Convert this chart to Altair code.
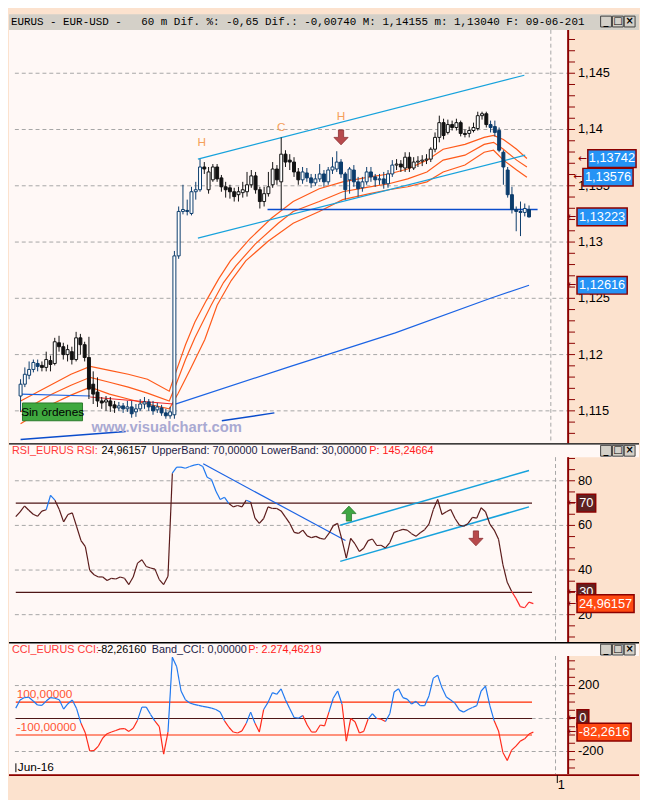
import altair as alt
import pandas as pd

# ------------------------------------------------------------------ data
price_open = [
 1.11632, 1.11737, 1.11816, 1.11868, 1.11921, 1.11904, 1.11886, 1.11947, 1.11921, 1.12105,
 1.12070, 1.12000, 1.12026, 1.11956, 1.12149, 1.12088, 1.11974, 1.11737, 1.11667, 1.11588,
 1.11579, 1.11588, 1.11553, 1.11526, 1.11544, 1.11518, 1.11535, 1.11491, 1.11518, 1.11561,
 1.11579, 1.11544, 1.11509, 1.11526, 1.11482, 1.11456, 1.11465, 1.12877, 1.13272, 1.13281,
 1.13254, 1.13447, 1.13465, 1.13667, 1.13465, 1.13553, 1.13667, 1.13570, 1.13491, 1.13482,
 1.13447, 1.13421, 1.13439, 1.13447, 1.13509, 1.13588, 1.13465, 1.13360, 1.13430, 1.13509,
 1.13649, 1.13535, 1.13781, 1.13728, 1.13711, 1.13623, 1.13553, 1.13614, 1.13570, 1.13526,
 1.13561, 1.13605, 1.13535, 1.13640, 1.13649, 1.13711, 1.13605, 1.13553, 1.13640, 1.13535,
 1.13482, 1.13535, 1.13623, 1.13579, 1.13553, 1.13561, 1.13518, 1.13605, 1.13684, 1.13693,
 1.13658, 1.13754, 1.13658, 1.13711, 1.13719, 1.13728, 1.13737, 1.13825, 1.13930, 1.14061,
 1.13974, 1.14044, 1.14018, 1.14061, 1.13965, 1.13965, 1.13991, 1.14009, 1.14123, 1.14140,
 1.14044, 1.14026, 1.13991, 1.13798, 1.13640, 1.13421, 1.13289, 1.13272, 1.13263, 1.13289]
price_close = [
 1.11737, 1.11825, 1.11868, 1.11930, 1.11895, 1.11886, 1.11956, 1.11912, 1.12114, 1.12070,
 1.12000, 1.12044, 1.11956, 1.12149, 1.12088, 1.11974, 1.11693, 1.11649, 1.11588, 1.11570,
 1.11597, 1.11544, 1.11526, 1.11544, 1.11518, 1.11535, 1.11474, 1.11518, 1.11561, 1.11579,
 1.11535, 1.11500, 1.11535, 1.11482, 1.11456, 1.11491, 1.12877, 1.13272, 1.13289, 1.13272,
 1.13447, 1.13465, 1.13667, 1.13649, 1.13623, 1.13667, 1.13561, 1.13491, 1.13465, 1.13447,
 1.13404, 1.13447, 1.13465, 1.13509, 1.13588, 1.13465, 1.13360, 1.13430, 1.13491, 1.13649,
 1.13553, 1.13781, 1.13711, 1.13711, 1.13623, 1.13553, 1.13623, 1.13570, 1.13526, 1.13561,
 1.13605, 1.13535, 1.13640, 1.13667, 1.13711, 1.13605, 1.13465, 1.13649, 1.13535, 1.13474,
 1.13535, 1.13623, 1.13579, 1.13553, 1.13561, 1.13518, 1.13605, 1.13684, 1.13693, 1.13667,
 1.13754, 1.13658, 1.13711, 1.13719, 1.13728, 1.13737, 1.13825, 1.13930, 1.14061, 1.13947,
 1.14044, 1.14018, 1.14061, 1.13965, 1.13956, 1.13991, 1.14018, 1.14123, 1.14140, 1.14044,
 1.14018, 1.13974, 1.13816, 1.13667, 1.13421, 1.13289, 1.13272, 1.13263, 1.13298, 1.13223]
price_high = [
 1.11781, 1.11886, 1.11939, 1.11956, 1.11956, 1.11939, 1.12026, 1.11991, 1.12149, 1.12167,
 1.12105, 1.12088, 1.12070, 1.12202, 1.12184, 1.12114, 1.12158, 1.11851, 1.11798, 1.11623,
 1.11632, 1.11623, 1.11588, 1.11579, 1.11570, 1.11588, 1.11588, 1.11561, 1.11605, 1.11623,
 1.11605, 1.11588, 1.11570, 1.11553, 1.11518, 1.11535, 1.12921, 1.13316, 1.13509, 1.13377,
 1.13491, 1.13535, 1.13737, 1.13711, 1.13667, 1.13693, 1.13693, 1.13596, 1.13535, 1.13509,
 1.13482, 1.13491, 1.13535, 1.13623, 1.13640, 1.13623, 1.13491, 1.13491, 1.13623, 1.13711,
 1.13684, 1.13930, 1.13816, 1.13781, 1.13754, 1.13658, 1.13667, 1.13658, 1.13605, 1.13605,
 1.13693, 1.13640, 1.13667, 1.13754, 1.13807, 1.13737, 1.13623, 1.13667, 1.13684, 1.13579,
 1.13579, 1.13667, 1.13667, 1.13605, 1.13605, 1.13623, 1.13640, 1.13728, 1.13737, 1.13728,
 1.13798, 1.13798, 1.13754, 1.13763, 1.13772, 1.13781, 1.13842, 1.13974, 1.14123, 1.14096,
 1.14088, 1.14079, 1.14096, 1.14079, 1.14000, 1.14026, 1.14061, 1.14158, 1.14158, 1.14158,
 1.14079, 1.14079, 1.14018, 1.13816, 1.13667, 1.13491, 1.13316, 1.13360, 1.13342, 1.13325]
price_low = [
 1.11491, 1.11711, 1.11781, 1.11842, 1.11851, 1.11851, 1.11851, 1.11851, 1.11904, 1.12026,
 1.11956, 1.11939, 1.11912, 1.11939, 1.12000, 1.11939, 1.11605, 1.11561, 1.11535, 1.11518,
 1.11500, 1.11491, 1.11482, 1.11500, 1.11482, 1.11491, 1.11439, 1.11447, 1.11500, 1.11518,
 1.11500, 1.11465, 1.11482, 1.11456, 1.11430, 1.11430, 1.11430, 1.12851, 1.13246, 1.13237,
 1.13237, 1.13377, 1.13447, 1.13605, 1.13430, 1.13535, 1.13535, 1.13447, 1.13395, 1.13386,
 1.13360, 1.13360, 1.13395, 1.13404, 1.13482, 1.13430, 1.13298, 1.13316, 1.13404, 1.13482,
 1.13509, 1.13289, 1.13667, 1.13640, 1.13579, 1.13509, 1.13518, 1.13535, 1.13482, 1.13500,
 1.13535, 1.13491, 1.13509, 1.13605, 1.13623, 1.13570, 1.13377, 1.13430, 1.13491, 1.13404,
 1.13447, 1.13509, 1.13535, 1.13491, 1.13509, 1.13474, 1.13482, 1.13579, 1.13640, 1.13623,
 1.13623, 1.13623, 1.13640, 1.13667, 1.13675, 1.13693, 1.13711, 1.13798, 1.13886, 1.13912,
 1.13956, 1.13991, 1.13991, 1.13939, 1.13930, 1.13930, 1.13974, 1.13991, 1.14088, 1.14018,
 1.13974, 1.13939, 1.13798, 1.13509, 1.13395, 1.13254, 1.13096, 1.13053, 1.13228, 1.13219]
navy_runs = [(0, 4), (23, 42), (66, 87), (110, 119)]

rsi_values = [
 63.9, 66.1, 68.7, 66.8, 65.0, 64.1, 66.4, 67.0, 73.5, 71.3,
 67.1, 61.6, 64.9, 65.6, 59.4, 53.2, 50.5, 39.9, 37.9, 36.9,
 36.9, 35.3, 36.3, 36.0, 36.9, 36.3, 33.5, 36.9, 43.1, 44.6,
 41.6, 40.9, 40.4, 35.7, 33.5, 37.2, 83.4, 86.1, 86.1, 85.6,
 86.4, 87.0, 87.4, 86.4, 81.6, 80.6, 75.4, 71.6, 72.6, 69.8,
 68.3, 68.9, 68.3, 71.3, 70.5, 63.3, 60.9, 63.1, 68.3, 67.6,
 67.6, 66.5, 63.7, 60.9, 56.9, 56.4, 57.9, 55.3, 54.5, 55.1,
 54.2, 53.8, 56.4, 59.9, 60.9, 53.5, 45.3, 54.2, 51.7, 48.3,
 49.8, 53.2, 53.9, 51.0, 51.1, 49.9, 52.3, 56.9, 57.6, 58.2,
 57.9, 56.3, 55.1, 56.7, 58.1, 60.6, 67.1, 71.6, 64.9, 66.1,
 67.1, 63.1, 60.1, 59.6, 60.9, 63.6, 63.3, 67.9, 66.1, 60.6,
 57.9, 53.8, 42.4, 34.5, 30.5, 27.3, 23.6, 23.1, 25.6, 24.96]
cci_values = [
 63, 112, 127, 129, 106, 82, 80, 106, 127, 123,
 114, 57, 90, 112, 59, -29, -88, -196, -194, -167,
 -118, -92, -82, -73, -63, -61, -78, -59, -10, 69,
 69, 24, -16, -49, -216, -82, 372, 314, 167, 114,
 94, 86, 80, 74, 69, 63, 55, 39, -14, -53,
 -82, -88, -75, -29, 39, -29, -82, 55, 98, 157,
 147, 180, 114, 59, 6, 2, 18, -39, -82, -82,
 -39, -45, 39, 123, 167, 88, -137, 0, -20, -88,
 -78, -4, 29, 0, -4, -18, 29, 161, 180, 127,
 118, 88, 104, 78, 78, 137, 245, 263, 186, 131,
 112, 92, 51, 39, 55, 67, 78, 167, 196, 78,
 -14, -75, -206, -255, -192, -167, -137, -123, -94, -82.26]

# envelope moving averages (bar index, price)
env_up_i = [0, 7.4, 11.8, 16.3, 20.8, 25.2, 29.7, 34.8, 36.4, 38.6, 40.8, 43.5, 46.4, 49.1, 53.6,
            58.7, 63.8, 69.9, 75.4, 81.7, 86.2, 90.6, 95.1, 98.9, 104, 108.5, 110.7, 113, 116.1, 118.5]
env_up_p = [1.11588, 1.11737, 1.11825, 1.11895, 1.11860, 1.11825, 1.11781, 1.11675, 1.11851, 1.12088,
            1.12289, 1.12482, 1.12675, 1.12833, 1.13026, 1.13211, 1.13360, 1.13474, 1.13535, 1.13579,
            1.13605, 1.13649, 1.13728, 1.13825, 1.13868, 1.13930, 1.13947, 1.13912, 1.13825, 1.13742]
env_mid_i = [0, 7.4, 11.8, 16.3, 20.8, 25.2, 29.7, 34.8, 36.4, 38.6, 40.8, 44.6, 47.5, 50.4, 54.9,
             60.3, 63.8, 69.9, 75.4, 81.7, 86.2, 90.6, 95.1, 98.9, 104, 108.5, 110.7, 113, 116.1, 118.5]
env_mid_p = [1.11491, 1.11649, 1.11728, 1.11798, 1.11754, 1.11711, 1.11658, 1.11588, 1.11737, 1.11956,
             1.12149, 1.12439, 1.12640, 1.12789, 1.12982, 1.13167, 1.13272, 1.13360, 1.13447, 1.13491,
             1.13518, 1.13561, 1.13623, 1.13728, 1.13772, 1.13868, 1.13886, 1.13825, 1.13728, 1.13667]
env_low_i = [0, 7.4, 11.8, 16.3, 20.8, 25.2, 29.7, 34.8, 36.8, 39.7, 43.1, 46, 49.3, 52.7, 58,
             63.8, 69.9, 75.4, 81.7, 86.2, 90.6, 95.1, 98.9, 104, 108.5, 110.7, 113, 116.1, 118.5]
env_low_p = [1.11386, 1.11561, 1.11640, 1.11711, 1.11649, 1.11605, 1.11561, 1.11518, 1.11649, 1.11868,
             1.12132, 1.12439, 1.12658, 1.12833, 1.13009, 1.13167, 1.13272, 1.13377, 1.13430, 1.13465,
             1.13491, 1.13535, 1.13623, 1.13684, 1.13798, 1.13816, 1.13728, 1.13640, 1.13576]
# long moving average (three colour runs)
ma_a_i = [0, 16.3]
ma_a_p = [1.11649, 1.11632]
ma_b_i = [16.3, 35.7]
ma_b_p = [1.11623, 1.11561]
ma_c_i = [35.7, 63.2, 87.7, 110, 119]
ma_c_p = [1.11553, 1.11895, 1.12193, 1.12500, 1.12616]

# drawn trend lines: (i1, v1, i2, v2)
price_channel = [(41.5, 1.13737, 117.9, 1.14482), (41.5, 1.13035, 118.1, 1.13772)]
price_support = [(57.8, 1.13289, 121.0, 1.13289)]
price_old = [(0, 1.11246, 24.6, 1.11316), (47.1, 1.11412, 59.4, 1.11482)]
rsi_down = [(43.1, 87.6, 75.8, 53.2)]
rsi_channel = [(74.6, 60.1, 118.0, 84.6), (74.6, 43.9, 118.0, 68.3)]

price_marks_i = [42.4, 61, 75]
price_marks_p = [1.13886, 1.14018, 1.14123]
price_marks_t = ["H", "C", "H"]

price_tag_v = [1.13742, 1.13576, 1.13223, 1.12616]
price_tag_t = ["1,13742", "1,13576", "1,13223", "1,12616"]
price_grid = [1.115, 1.12, 1.125, 1.13, 1.135, 1.14, 1.145]
price_grid_t = ["1,115", "1,12", "1,125", "1,13", "1,135", "1,14", "1,145"]
rsi_grid = [20, 40, 60, 80]
cci_grid = [-200, 0, 200]
day_break = 124.1

# ------------------------------------------------------------------ style
W = 568
PEACH = "#FCE2CE"
PLOT_BG = "#FFF8F6"
TITLE_BG = "#D4D0C8"
AXIS_RED = "#8B0000"
GRID = "#A6A6A6"
FONT = "Liberation Sans"
NAVY = "#0B3C6C"
BLACK = "#111111"
ORANGE = "#FF5A1A"
CYAN = "#17A2DC"
BLUE = "#1C64E4"
DBLUE = "#0A4CCC"
BROWN = "#4E1616"
RED_TXT = "#FF3A3A"
TAG_BLUE = "#2593F5"
TAG_BROWN = "#5E2222"
TAG_ORANGE = "#FF4A12"

PRICE_H, RSI_H, CCI_H = 420, 202, 134
XS = alt.Scale(domain=[-1.56, 127.0], nice=False, zero=False)
YP = alt.Scale(domain=[1.11211, 1.14885], nice=False, zero=False)
YR = alt.Scale(domain=[7.65, 96.76], nice=False, zero=False)
YC = alt.Scale(domain=[-337.3, 462.7], nice=False, zero=False)
PXU_P, PXU_R, PXU_C = 11432.0, 2.2667, 0.1675

one = pd.DataFrame({"k": [0]})


def X(f):
    return alt.X(f + ":Q", scale=XS, axis=None)


def Y(f, s):
    return alt.Y(f + ":Q", scale=s, axis=None)


def bg(h, fill):
    return alt.Chart(one).mark_rect(fill=fill).encode(
        x=alt.value(0), x2=alt.value(W), y=alt.value(0), y2=alt.value(h))


def buttons(y0):
    out = []
    for bx, glyph in [(601, "_"), (613, "□"), (625, "×")]:
        out.append(alt.Chart(one).mark_rect(fill=TITLE_BG, stroke="#404040", strokeWidth=1).encode(
            x=alt.value(bx), x2=alt.value(bx + 11), y=alt.value(y0), y2=alt.value(y0 + 11)))
        out.append(alt.Chart(one).mark_text(text=glyph, fontSize=10, font="DejaVu Sans",
                                            fontWeight="bold", color="black").encode(
            x=alt.value(bx + 5.5), y=alt.value(y0 + 5)))
    return out


def header(parts):
    layers = [
        alt.Chart(one).mark_rect(fill=PLOT_BG).encode(
            x=alt.value(0), x2=alt.value(640), y=alt.value(0), y2=alt.value(14)),
        alt.Chart(one).mark_rule(color="black", strokeWidth=1.5).encode(
            x=alt.value(0), x2=alt.value(640), y=alt.value(0.5)),
    ]
    for text, x, col in parts:
        layers.append(alt.Chart(one).mark_text(text=text, align="left", baseline="middle",
                                               fontSize=11, font=FONT, color=col).encode(
            x=alt.value(x), y=alt.value(8)))
    return layers + buttons(2)


def grid(vals, s):
    return alt.Chart(pd.DataFrame({"v": vals})).mark_rule(
        color=GRID, strokeDash=[4, 3], strokeWidth=1).encode(
        x=alt.value(6), x2=alt.value(W), y=Y("v", s))


def vbreak(y0, y1):
    return alt.Chart(pd.DataFrame({"d": [day_break]})).mark_rule(
        color=GRID, strokeDash=[4, 3], strokeWidth=1).encode(
        x=X("d"), y=alt.value(y0), y2=alt.value(y1))


def seglines(lines, s, color, width=1.2):
    df = pd.DataFrame(lines, columns=["a", "va", "b", "vb"])
    return alt.Chart(df).mark_rule(color=color, strokeWidth=width).encode(
        x=X("a"), x2="b:Q", y=Y("va", s), y2="vb:Q")


def right_axis(s, ticks, lab_v, lab_t, y_top, h):
    line = alt.Chart(one).mark_rule(color=AXIS_RED, strokeWidth=2).encode(
        x=alt.value(W), y=alt.value(y_top), y2=alt.value(h))
    tk = alt.Chart(pd.DataFrame({"v": ticks})).mark_rule(color=AXIS_RED, strokeWidth=1).encode(
        x=alt.value(W), x2=alt.value(W + 7), y=Y("v", s))
    lb = alt.Chart(pd.DataFrame({"v": lab_v, "t": lab_t})).mark_text(
        align="left", baseline="middle", fontSize=13, font=FONT, color="black").encode(
        x=alt.value(W + 10), y=Y("v", s), text="t:N")
    return [line, tk, lb]


def tag(value, text, x0, x1, fill, s, pxu):
    half = 9.0 / pxu
    df = pd.DataFrame({"v": [value], "lo": [value - half], "hi": [value + half], "t": [text]})
    box = alt.Chart(df).mark_rect(fill=fill, stroke=AXIS_RED, strokeWidth=1.5).encode(
        x=alt.value(x0), x2=alt.value(x1), y=Y("lo", s), y2="hi:Q")
    txt = alt.Chart(df).mark_text(color="white", fontSize=13, font=FONT).encode(
        x=alt.value((x0 + x1) / 2), y=Y("v", s), text="t:N")
    arr = alt.Chart(df).mark_text(text="←", color=AXIS_RED, fontSize=11, font="DejaVu Sans").encode(
        x=alt.value(x0 - 5), y=Y("v", s))
    return [box, arr, txt]


ARROW_DOWN = "M -0.35 -1 L 0.35 -1 L 0.35 0 L 0.95 0 L 0 1 L -0.95 0 L -0.35 0 Z"
ARROW_UP = "M -0.35 1 L 0.35 1 L 0.35 0 L 0.95 0 L 0 -1 L -0.95 0 L -0.35 0 Z"


def arrow(i, v, s, path, fill, stroke):
    return alt.Chart(pd.DataFrame({"i": [i], "v": [v]})).mark_point(
        shape=path, filled=True, size=230, fill=fill, stroke=stroke, strokeWidth=0.8, opacity=1).encode(
        x=X("i"), y=Y("v", s))


# ------------------------------------------------------------------ title bar
NB = "\u00a0"
title_text = ("EURUS - EUR-USD -" + NB * 3 + "60 m Dif. %: -0,65 Dif.: -0,00740 "
              "M: 1,14155 m: 1,13040 F: 09-06-201")
title_panel = alt.layer(
    alt.Chart(one).mark_rect(fill=TITLE_BG).encode(
        x=alt.value(0), x2=alt.value(640), y=alt.value(0), y2=alt.value(16)),
    alt.Chart(one).mark_text(text=title_text, align="left", baseline="middle", fontSize=11.05,
                             font="Liberation Mono", color="black").encode(
        x=alt.value(2), y=alt.value(8)),
    *buttons(2),
).properties(width=W, height=16)

# ------------------------------------------------------------------ price panel
N = len(price_close)
tones = [NAVY if any(a <= k <= b for a, b in navy_runs) else BLACK for k in range(N)]
bars = pd.DataFrame({"i": list(range(N)), "o": price_open, "c": price_close,
                     "h": price_high, "l": price_low, "tone": tones})
bars["fillc"] = [t if c < o else "#FFFFFF" for t, c, o in zip(bars.tone, bars.c, bars.o)]

ma_rows = []
for name, xs_, ps_, col in [("up", env_up_i, env_up_p, ORANGE), ("mid", env_mid_i, env_mid_p, ORANGE),
                            ("low", env_low_i, env_low_p, ORANGE), ("ma_a", ma_a_i, ma_a_p, BLUE),
                            ("ma_b", ma_b_i, ma_b_p, "#F02828"), ("ma_c", ma_c_i, ma_c_p, BLUE)]:
    for k, (a, p) in enumerate(zip(xs_, ps_)):
        ma_rows.append({"s": name, "ord": k, "i": a, "p": p, "col": col})
ma_df = pd.DataFrame(ma_rows)

marks_df = pd.DataFrame({"i": price_marks_i, "p": price_marks_p, "t": price_marks_t})

price_layers = [
    bg(PRICE_H, PLOT_BG),
    grid(price_grid, YP),
    vbreak(0, PRICE_H),
    alt.Chart(ma_df).mark_line(strokeWidth=1.2).encode(
        x=X("i"), y=Y("p", YP), detail="s:N", order="ord:Q", color=alt.Color("col:N", scale=None)),
    seglines(price_channel, YP, CYAN),
    seglines(price_support, YP, DBLUE, 1.5),
    seglines(price_old, YP, DBLUE, 1.5),
    alt.Chart(bars).mark_rule(strokeWidth=1).encode(
        x=X("i"), y=Y("l", YP), y2="h:Q", color=alt.Color("tone:N", scale=None)),
    alt.Chart(bars).mark_bar(size=3, strokeWidth=1).encode(
        x=X("i"), y=Y("o", YP), y2="c:Q",
        fill=alt.Fill("fillc:N", scale=None), stroke=alt.Stroke("tone:N", scale=None)),
    alt.Chart(marks_df).mark_text(fontSize=12, font=FONT, color="#F5A05A").encode(
        x=X("i"), y=Y("p", YP), text="t:N"),
    arrow(75, 1.13930, YP, ARROW_DOWN, "#B84A4C", "#8A2E30"),
    alt.Chart(pd.DataFrame({"a": [0.45], "b": [14.5], "lo": [1.11412], "hi": [1.11570]})).mark_rect(
        fill="#3FA83F", stroke="#2B7A2B", strokeWidth=1).encode(
        x=X("a"), x2="b:Q", y=Y("lo", YP), y2="hi:Q"),
    alt.Chart(pd.DataFrame({"i": [7.5], "p": [1.11491], "t": ["Sin órdenes"]})).mark_text(
        fontSize=12, font=FONT, color="black").encode(x=X("i"), y=Y("p", YP), text="t:N"),
    alt.Chart(pd.DataFrame({"i": [34.2], "p": [1.11360], "t": ["www.visualchart.com"]})).mark_text(
        fontSize=15, font=FONT, fontWeight="bold", color="#A9A9D2").encode(
        x=X("i"), y=Y("p", YP), text="t:N"),
]
price_layers += right_axis(YP, [round(1.113 + 0.001 * k, 3) for k in range(36)],
                           price_grid, price_grid_t, 0, PRICE_H)
for v, t, x0, x1 in zip(price_tag_v, price_tag_t, [588, 583, 577, 577], [637, 634, 628, 628]):
    price_layers += tag(v, t, x0, x1, TAG_BLUE, YP, PXU_P)
price_panel = alt.layer(*price_layers).properties(width=W, height=PRICE_H)


# ------------------------------------------------------------------ RSI panel
def colored_segments(vals, colour_of):
    rows = []
    for k in range(len(vals) - 1):
        a, b = vals[k], vals[k + 1]
        rows.append({"a": k, "b": k + 1, "va": a, "vb": b, "col": colour_of((a + b) / 2)})
    return pd.DataFrame(rows)


rsi_seg = colored_segments(rsi_values, lambda m: "#1E78F0" if m > 70 else ("#FF2A2A" if m < 30 else "#5A1A1A"))
rsi_bands = [(0, 70, 118.7, 70), (0, 30, 118.7, 30)]

rsi_layers = [bg(RSI_H, PLOT_BG)] + header([
    ("RSI_EURUS RSI:", 3, RED_TXT), ("24,96157", 94, "black"),
    ("UpperBand: 70,00000", 145, "#1C1C48"), ("LowerBand: 30,00000", 256, "#1C1C48"),
    ("P: 145,24664", 366, "#FF2020")]) + [
    grid(rsi_grid, YR),
    vbreak(14, RSI_H),
    seglines(rsi_bands, YR, BROWN, 1.2),
    seglines(rsi_down, YR, BLUE, 1.2),
    seglines(rsi_channel, YR, CYAN, 1.5),
    alt.Chart(rsi_seg).mark_rule(strokeWidth=1.2).encode(
        x=X("a"), x2="b:Q", y=Y("va", YR), y2="vb:Q", color=alt.Color("col:N", scale=None)),
    arrow(76.6, 65.3, YR, ARROW_UP, "#3FA743", "#2A7A2E"),
    arrow(105.8, 54.2, YR, ARROW_DOWN, "#B84A4C", "#8A2E30"),
]
rsi_layers += right_axis(YR, list(range(10, 95, 5)), [80, 60, 40, 20], ["80", "60", "40", "20"], 14, RSI_H)
rsi_layers += tag(70, "70", 577, 596, TAG_BROWN, YR, PXU_R)
rsi_layers += tag(30, "30", 577, 596, TAG_BROWN, YR, PXU_R)
rsi_layers += tag(24.96157, "24,96157", 577, 635, TAG_ORANGE, YR, PXU_R)
rsi_panel = alt.layer(*rsi_layers).properties(width=W, height=RSI_H)

# ------------------------------------------------------------------ CCI panel
cci_seg = colored_segments(cci_values, lambda m: "#1E78F0" if m > 0 else "#FF2A1A")
cci_layers = [bg(CCI_H, PLOT_BG)] + header([
    ("CCI_EURUS CCI:", 3, RED_TXT), ("-82,26160", 90, "black"),
    ("Band_CCI: 0,00000", 145, "#1C1C48"), ("P: 2.274,46219", 243, "#FF2020")]) + [
    grid(cci_grid, YC),
    vbreak(14, CCI_H),
    seglines([(0, 100, 118.7, 100), (0, -100, 118.7, -100)], YC, "#FF2A00", 1.2),
    seglines([(0, 0, 118.7, 0)], YC, BROWN, 1.2),
    alt.Chart(pd.DataFrame({"i": [0.2, 0.2], "v": [151, -52], "t": ["100,00000", "-100,00000"]})).mark_text(
        align="left", fontSize=12, font=FONT, color="#FF5533").encode(x=X("i"), y=Y("v", YC), text="t:N"),
    alt.Chart(cci_seg).mark_rule(strokeWidth=1.2).encode(
        x=X("a"), x2="b:Q", y=Y("va", YC), y2="vb:Q", color=alt.Color("col:N", scale=None)),
    alt.Chart(one).mark_text(text="Jun-16", align="left", baseline="middle", fontSize=12,
                             font=FONT, color="black").encode(x=alt.value(9), y=alt.value(127)),
    alt.Chart(one).mark_rule(color="black", strokeWidth=1).encode(
        x=alt.value(7), y=alt.value(123), y2=alt.value(132)),
]
cci_layers += right_axis(YC, list(range(-300, 400, 50)), [200, -200], ["200", "-200"], 14, CCI_H)
cci_layers += tag(0, "0", 577, 589, TAG_BROWN, YC, PXU_C)
cci_layers += tag(-82.2616, "-82,2616", 577, 632, TAG_ORANGE, YC, PXU_C)
cci_panel = alt.layer(*cci_layers).properties(width=W, height=CCI_H)

# ------------------------------------------------------------------ bottom strip
bottom_panel = alt.layer(
    bg(20, PEACH),
    alt.Chart(one).mark_rule(color=AXIS_RED, strokeWidth=2).encode(
        x=alt.value(0), x2=alt.value(640), y=alt.value(1)),
    alt.Chart(one).mark_rule(color="black", strokeWidth=1).encode(
        x=alt.value(557), y=alt.value(1), y2=alt.value(9)),
    alt.Chart(one).mark_text(text="1", fontSize=13, font=FONT, color="black").encode(
        x=alt.value(561), y=alt.value(11)),
).properties(width=W, height=20)

chart = alt.vconcat(
    title_panel, price_panel, rsi_panel, cci_panel, bottom_panel,
    spacing=0, bounds="flush", padding=0, background=PEACH,
).configure_view(strokeWidth=0)

chart.save("out.html", embed_options={"renderer": "svg", "actions": False})
